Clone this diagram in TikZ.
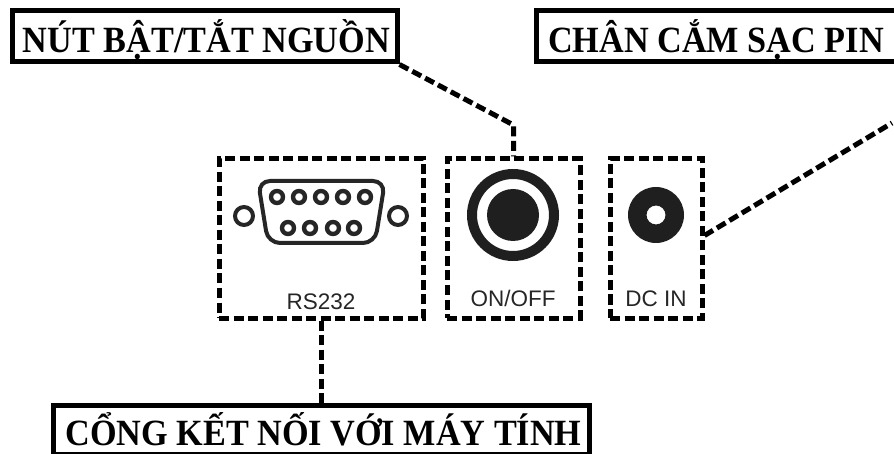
\documentclass[tikz,border=0pt]{standalone}
\usepackage{fontspec}
\setmainfont{Liberation Serif}
\newfontfamily\labelsans{Liberation Sans}
\newfontfamily\titlefont[FakeStretch=0.925]{Liberation Serif}
\tikzset{
  x=1pt,y=-1pt,
  titlebox/.style={draw=black,line width=5pt,fill=white,inner sep=0pt,anchor=center},
  titletext/.style={font=\titlefont\fontsize{37}{37}\selectfont\bfseries,text=black,inner sep=0pt,anchor=base},
  dashbox/.style={draw=black,line width=5pt,dash pattern=on 10pt off 4.5pt,inner sep=0pt,fill=white},
  leader/.style={draw=black,line width=5pt,dash pattern=on 10pt off 4.5pt},
  panellabel/.style={font=\labelsans\fontsize{22.5}{22.5}\selectfont,text=black!85,inner sep=0pt,anchor=base},
  pin/.style={draw=black!85,line width=4.4pt},
  screw/.style={draw=black!85,line width=4pt},
  shell/.style={draw=black!85,line width=4pt,rounded corners=12pt}
}
\begin{document}
\begin{tikzpicture}
\useasboundingbox (0,0) rectangle (894,454);
\fill[white] (0,0) rectangle (894,454);
\begin{scope}
\clip (0,0) rectangle (894,454);
\node[titlebox,minimum width=385pt,minimum height=51pt] (power) at (204.5,36.5) {};
\node[titletext] (powertext) at (206.5,53) {NÚT BẬT/TẮT NGUỒN};
\node[titlebox,minimum width=380pt,minimum height=51pt] (charge) at (726,36.5) {};
\node[titletext] (chargetext) at (716,53) {CHÂN CẮM SẠC PIN};
\node[titlebox,minimum width=536pt,minimum height=49pt] (pc) at (321,429.5) {};
\node[titletext] (pctext) at (323.5,445) {CỔNG KẾT NỐI VỚI MÁY TÍNH};
\node[dashbox,minimum width=204pt,minimum height=159pt] (rs) at (321,238.5) {};
\node[dashbox,minimum width=133pt,minimum height=159pt] (onoff) at (513.5,238.5) {};
\node[dashbox,minimum width=92pt,minimum height=159pt] (dc) at (656,238.5) {};
\coordinate (bend) at (513.5,125);
\coordinate (freeend) at (892,123);
\draw[leader] (power.south east) -- (bend) -- (onoff.north);
\draw[leader] (rs.south) -- (pc.north);
\draw[leader] ([yshift=3pt]dc.east) -- (freeend);
\end{scope}
% DB9 connector
\draw[shell] (258,181) -- (385,181) -- (375,243) -- (268,243) -- cycle;
\foreach \px in {277,299,321,343,365} \draw[pin] (\px,197) circle (6);
\foreach \px in {288,310,333,354} \draw[pin] (\px,228) circle (6);
\draw[screw] (244,216) circle (9);
\draw[screw] (398,216) circle (9);
% power button
\draw[black!88,line width=10pt] (513,215) circle (41);
\fill[black!88] (513,215) circle (26);
% DC jack
\fill[black!88,even odd rule] (656,215) circle (28) (656,215) circle (9.5);
\node[panellabel] (rslabel) at (321,309) {RS232};
\node[panellabel] (onlabel) at (513,307) {ON/OFF};
\node[panellabel] (dclabel) at (656,307) {DC IN};
\end{tikzpicture}
\end{document}
